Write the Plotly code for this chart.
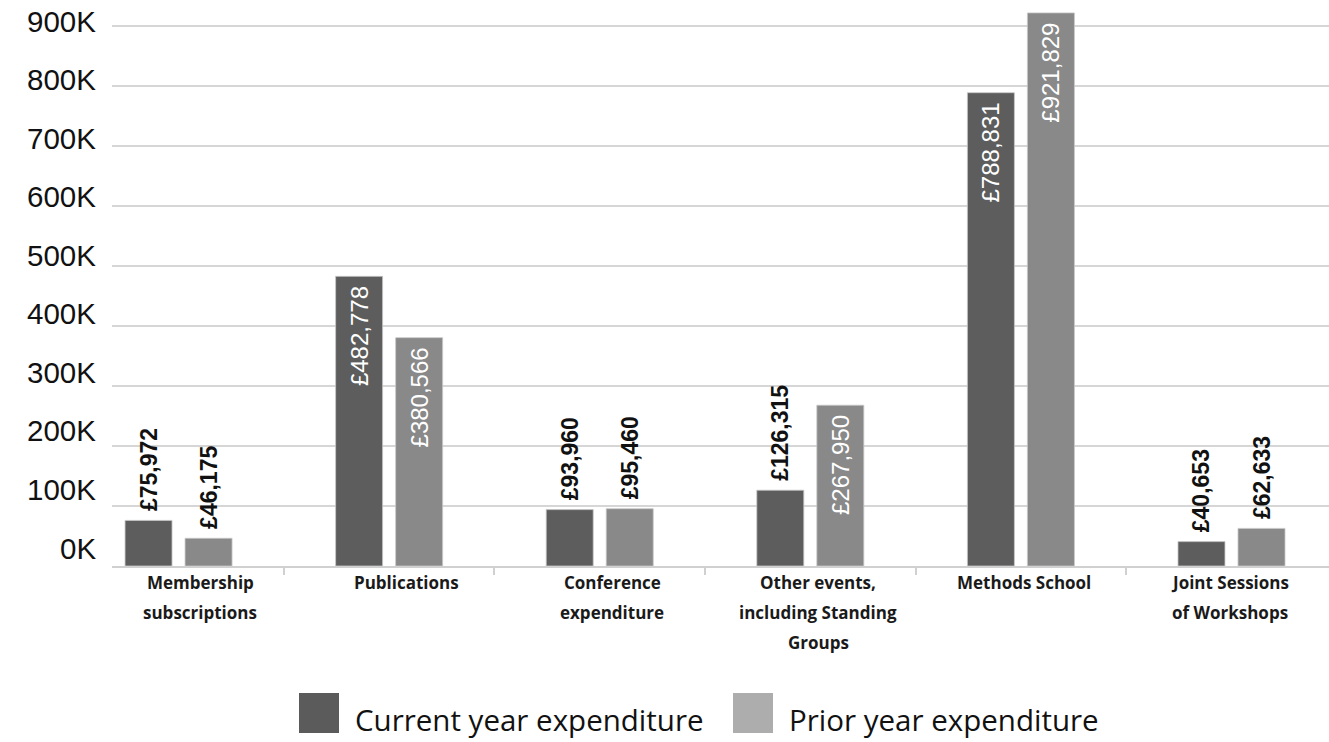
import plotly.graph_objects as go

categories = ["Membership\nsubscriptions", "Publications", "Conference\nexpenditure",
              "Other events,\nincluding Standing\nGroups", "Methods School",
              "Joint Sessions\nof Workshops"]
current_year = [75972, 482778, 93960, 126315, 788831, 40653]
prior_year = [46175, 380566, 95460, 267950, 921829, 62633]
current_pos = ["outside", "inside", "outside", "outside", "inside", "outside"]
prior_pos = ["outside", "inside", "outside", "inside", "inside", "outside"]
y_ticks = [0, 100000, 200000, 300000, 400000, 500000, 600000, 700000, 800000, 900000]
y_tick_labels = ["0K", "100K", "200K", "300K", "400K", "500K", "600K", "700K", "800K", "900K"]
series_names = ["Current year expenditure", "Prior year expenditure"]

W, H = 1329, 742
ML, MR, MT, MB = 112, 0, 0, 176
PW, PH = W - ML - MR, H - MT - MB

C_CUR = "#5d5d5d"
C_PRI = "#898989"
LEG_CUR = "#5b5b5b"
LEG_PRI = "#adadad"


def labels(vals, pos):
    out = []
    for v, p in zip(vals, pos):
        s = "£{:,}".format(v)
        out.append(s + "\u00a0" if p == "inside" else "\u00a0" + s)
    return out


def px_x(px):
    return (px - ML) / PW


def px_y(py):
    return (MT + PH - py) / PH


cat_keys = [c.replace("\n", " ") for c in categories]

fig = go.Figure()
for name, vals, pos, col in [(series_names[0], current_year, current_pos, C_CUR),
                             (series_names[1], prior_year, prior_pos, C_PRI)]:
    fig.add_trace(go.Bar(
        x=cat_keys, y=vals, name=name,
        marker=dict(color=col, line=dict(color="#c8c8c8", width=0.8)),
        text=labels(vals, pos), textposition=pos, textangle=-90,
        insidetextanchor="end", constraintext="none", cliponaxis=False,
        insidetextfont=dict(family="Liberation Sans, Arial", size=24, color="white"),
        outsidetextfont=dict(family="Liberation Sans, Arial", size=23, color="#111111",
                             weight=700),
        showlegend=False, hoverinfo="skip",
    ))

annotations = []
# x category labels
for i, c in enumerate(categories):
    for j, line in enumerate(c.split("\n")):
        annotations.append(dict(
            x=cat_keys[i], y=0, xref="x", yref="y", text=line, showarrow=False,
            xanchor="center", yanchor="middle", xshift=21.5 - 4.6 * i, yshift=-(16 + 30 * j),
            font=dict(family="Open Sans", size=17, color="#1a1a1a", weight=700),
        ))
# y tick labels
for i, (v, t) in enumerate(zip(y_ticks, y_tick_labels)):
    annotations.append(dict(
        x=0, y=v, xref="paper", yref="y", text=t, showarrow=False,
        xanchor="right", yanchor="middle", xshift=-14, yshift=18 - 1.45 * i,
        font=dict(family="Liberation Sans, Arial", size=29.5, color="#111111"),
    ))

# legend
shapes = []
leg = [(299, LEG_CUR, series_names[0]), (733, LEG_PRI, series_names[1])]
for x0, col, name in leg:
    shapes.append(dict(type="rect", xref="paper", yref="paper",
                       x0=px_x(x0), x1=px_x(x0 + 40), y0=px_y(733), y1=px_y(693),
                       fillcolor=col, line=dict(width=0)))
    annotations.append(dict(x=px_x(x0 + 54), y=px_y(719), xref="paper", yref="paper",
                            text=name, showarrow=False, xanchor="left", yanchor="middle",
                            font=dict(family="Open Sans", size=29.5, color="#111111")))

fig.update_layout(
    width=W, height=H, autosize=False,
    margin=dict(l=ML, r=MR, t=MT, b=MB, pad=0),
    paper_bgcolor="white", plot_bgcolor="white",
    barmode="group", bargap=0.43, bargroupgap=0.217,
    annotations=annotations, shapes=shapes,
    xaxis=dict(type="category", categoryorder="array", categoryarray=cat_keys,
               range=[-0.316, 5.463], tickson="boundaries", ticks="outside",
               ticklen=7, tickwidth=1.5, tickcolor="#d0d0d0", showticklabels=False,
               showline=True, linecolor="#d0d0d0", linewidth=2, showgrid=False,
               fixedrange=True),
    yaxis=dict(range=[0, 943333], tickvals=y_ticks, showticklabels=False,
               showgrid=True, gridcolor="#d6d6d6", gridwidth=2, zeroline=False,
               ticks="", fixedrange=True),
    showlegend=False,
)

fig.write_html("out.html")
